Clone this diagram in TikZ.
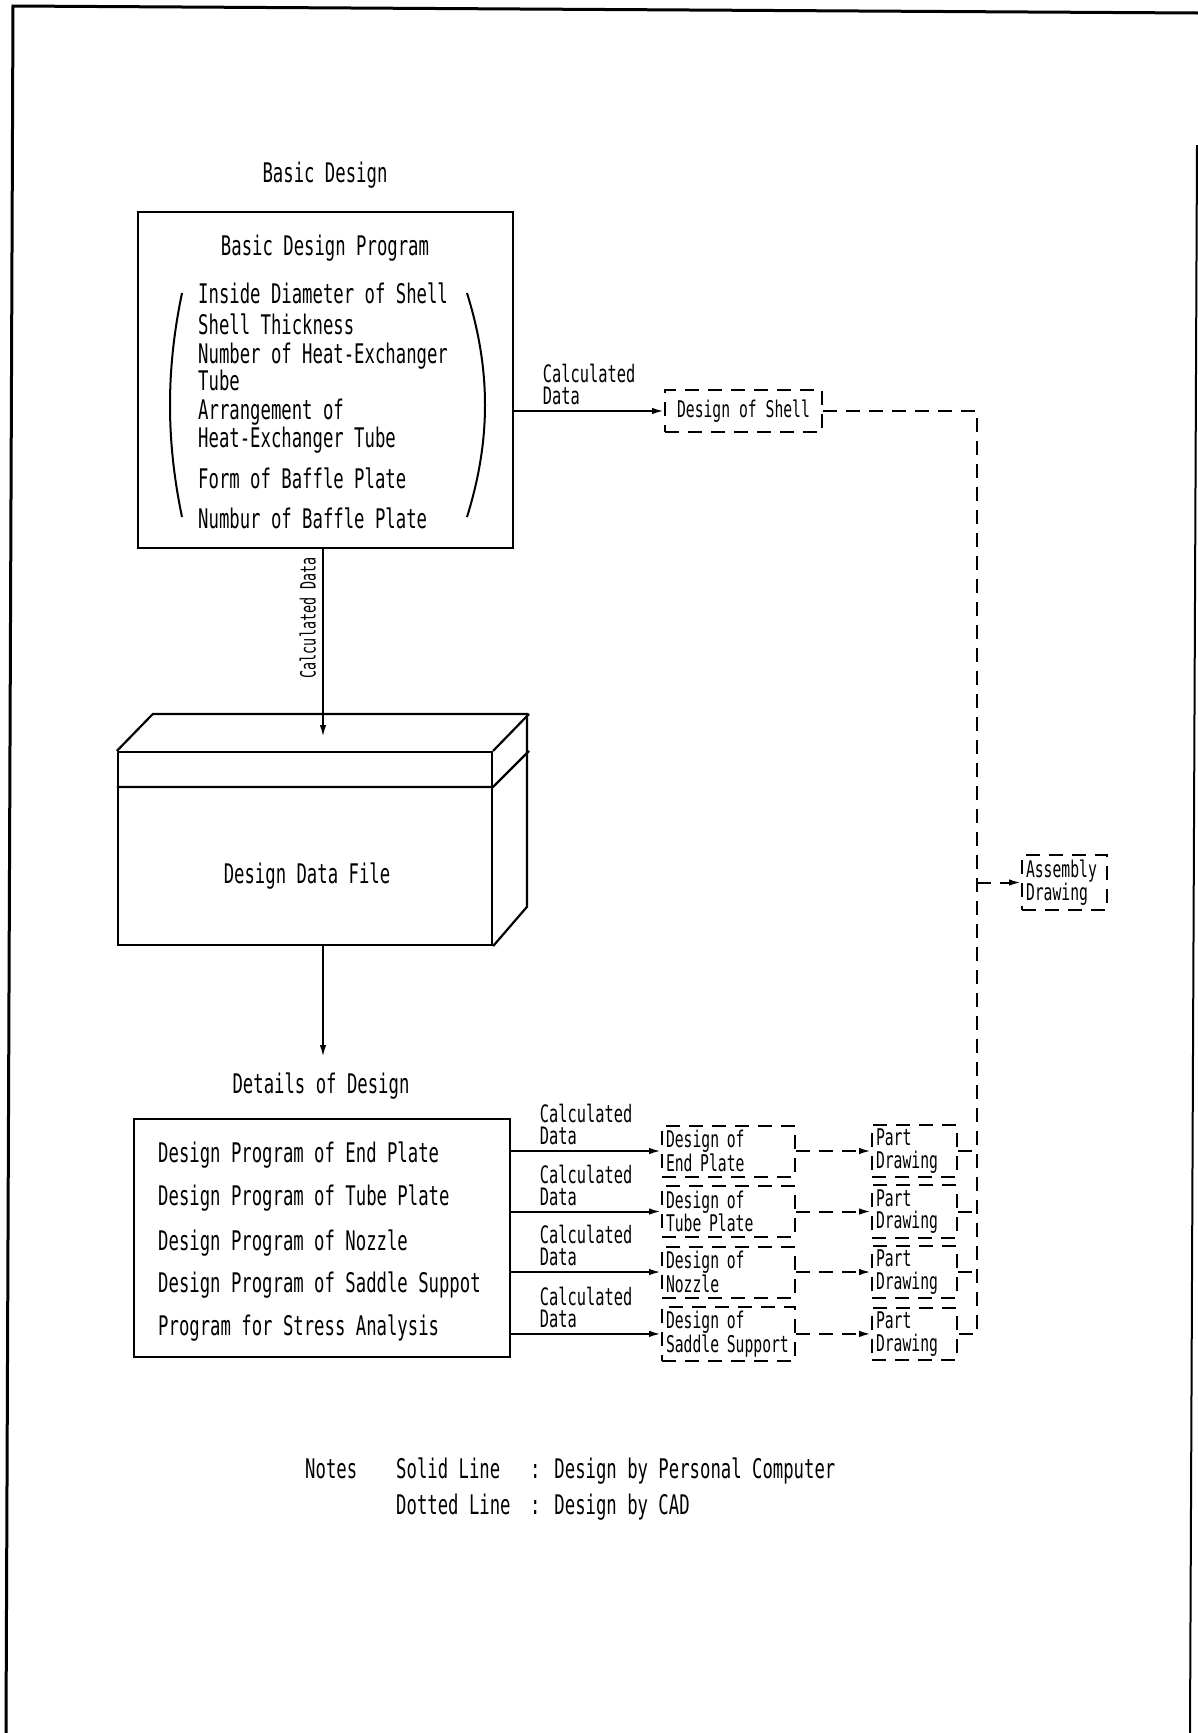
\documentclass[tikz,border=0pt]{standalone}
\usepackage{fontspec}
\setmainfont{DejaVu Sans Mono}[FakeStretch=0.64]
\usetikzlibrary{arrows.meta,positioning}
\newcommand\fbig{\fontsize{27}{30}\selectfont}
\newcommand\fcalc{\fontsize{24}{22}\selectfont}
\newcommand\fsmall{\fontsize{23}{22.5}\selectfont}
\newcommand\fside{\fontsize{21}{22}\selectfont}

\begin{document}
\begin{tikzpicture}[x=1pt,y=-1pt,>={Latex[length=12pt,width=6.5pt]},
 node distance=7.5pt and 75pt,
 box/.style={draw,line width=2.2pt,inner sep=0pt},
 txt/.style={inner sep=0pt,font=\fbig},
 cad/.style={draw,line width=2pt,dash pattern=on 14pt off 9pt,align=left,font=\fsmall,inner sep=4pt,minimum height=51pt},
 dline/.style={line width=2pt,dash pattern=on 14pt off 9pt},
 arrow/.style={->,line width=2pt},
 calc/.style={font=\fcalc,align=left,inner sep=2pt,above=3pt}]
\useasboundingbox (0,0) rectangle (1198,1733);
% sheet frame
\draw[line width=3pt] (6,1733) -- (13,6) -- (1198,13);
\draw[line width=2pt] (1197,145) -- (1190,1733);

% basic design
\node[txt,anchor=base] (ttlbasic) at (325,182) {Basic Design};
\node[box,minimum width=375pt,minimum height=336pt] (basic) at (325.5,380) {};
\node[txt,anchor=base] (bdp) at (325,255) {Basic Design Program};
\node[txt,anchor=base west] (it1) at (198,303) {Inside Diameter of Shell};
\node[txt,anchor=base west] (it2) at (198,334) {Shell Thickness};
\node[txt,anchor=base west] (it3) at (198,363) {Number of Heat-Exchanger};
\node[txt,anchor=base west] (it3b) at (198,390) {Tube};
\node[txt,anchor=base west] (it4) at (198,419) {Arrangement of};
\node[txt,anchor=base west] (it4b) at (198,447) {Heat-Exchanger Tube};
\node[txt,anchor=base west] (it5) at (198,488) {Form of Baffle Plate};
\node[txt,anchor=base west] (it6) at (198,528) {Numbur of Baffle Plate};
\draw[line width=2pt] (182,293) .. controls (166,370) and (166,440) .. (182,517);
\draw[line width=2pt] (467,293) .. controls (491,370) and (491,440) .. (467,517);

% design data file
\node[box,minimum width=374pt,minimum height=193pt] (file) at (305,848.5) {};
\draw[line width=2.2pt] (file.north west) -- ++(36,-37) -- ++(374,0) -- ++(0,193) -- (file.south east);
\draw[line width=2.2pt] (file.north east) -- ++(36,-37);
\draw[line width=2.2pt] (file.north west) ++(0,36) coordinate (lid) -- (lid -| file.east) -- ++(36,-36);
\node[txt,anchor=base] (filetxt) at (307,883) {Design Data File};
\coordinate (ftop) at (323,737);
\draw[arrow] (basic.south -| ftop) -- node[pos=0.365,rotate=90,anchor=south,inner sep=6pt,font=\fside] {Calculated Data} (ftop);

% details of design
\coordinate (dtop) at (323,1057);
\draw[arrow] (file.south -| ftop) -- (dtop);
\node[txt,anchor=base] (ttldetail) at (321,1093) {Details of Design};
\node[box,minimum width=376pt,minimum height=238pt] (detail) at (322,1238) {};
\node[txt,anchor=base west] (dp1) at (158,1162) {Design Program of End Plate};
\node[txt,anchor=base west] (dp2) at (158,1205) {Design Program of Tube Plate};
\node[txt,anchor=base west] (dp3) at (158,1250) {Design Program of Nozzle};
\node[txt,anchor=base west] (dp4) at (158,1292) {Design Program of Saddle Suppot};
\node[txt,anchor=base west] (dp5) at (158,1335) {Program for Stress Analysis};

% CAD side
\node[cad,align=center,minimum width=157pt,minimum height=42pt] (shell) at (743.5,411) {Design of Shell};
\draw[arrow] (basic.east |- shell.west) -- node[calc] {Calculated\\Data} (shell.west);

\node[cad,text width=125pt] (des1) at (728.5,1151) {Design of\\End Plate};
\node[cad,text width=125pt,below=of des1] (des2) {Design of\\Tube Plate};
\node[cad,text width=125pt,below=of des2] (des3) {Design of\\Nozzle};
\node[cad,text width=125pt,below=of des3] (des4) {Design of\\Saddle Support};
\node[cad,text width=77pt,right=of des1] (part1) {Part\\Drawing};
\node[cad,text width=77pt,right=of des2] (part2) {Part\\Drawing};
\node[cad,text width=77pt,right=of des3] (part3) {Part\\Drawing};
\node[cad,text width=77pt,right=of des4] (part4) {Part\\Drawing};
\draw[arrow] (detail.east |- des1.west) -- node[calc] {Calculated\\Data} (des1.west);
\draw[arrow] (detail.east |- des2.west) -- node[calc] {Calculated\\Data} (des2.west);
\draw[arrow] (detail.east |- des3.west) -- node[calc] {Calculated\\Data} (des3.west);
\draw[arrow] (detail.east |- des4.west) -- node[calc] {Calculated\\Data} (des4.west);
\draw[dline,->] (des1.east) -- (part1.west);
\draw[dline,->] (des2.east) -- (part2.west);
\draw[dline,->] (des3.east) -- (part3.west);
\draw[dline,->] (des4.east) -- (part4.west);

\coordinate (busT) at (977,411);
\draw[dline] (shell.east) -- (busT) -- (busT |- part4.east) -- (part4.east);
\draw[dline] (part1.east) -- (part1.east -| busT);
\draw[dline] (part2.east) -- (part2.east -| busT);
\draw[dline] (part3.east) -- (part3.east -| busT);
\node[cad,text width=77pt,minimum height=55pt] (asm) at (1064.5,882.5) {Assembly\\Drawing};
\draw[dline,->] (asm.west -| busT) -- (asm.west);

% notes
\node[txt,anchor=base west] (notes) at (305,1478) {Notes};
\node[txt,anchor=base west] (solid) at (396,1478) {Solid Line};
\node[txt,anchor=base west] (solidtxt) at (530,1478) {: Design by Personal Computer};
\node[txt,anchor=base west] (dotted) at (396,1514) {Dotted Line};
\node[txt,anchor=base west] (dottedtxt) at (530,1514) {: Design by CAD};
\end{tikzpicture}
\end{document}
